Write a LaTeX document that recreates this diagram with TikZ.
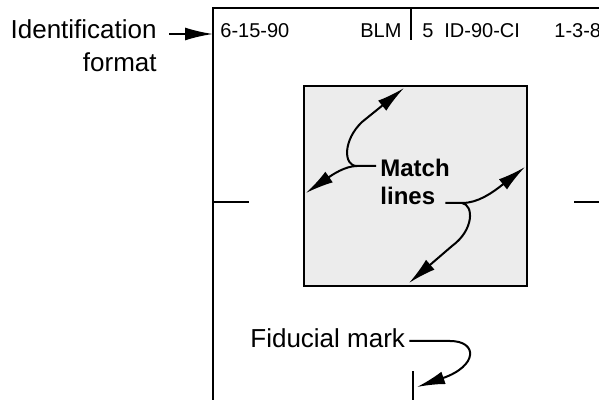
\documentclass[tikz,border=0pt]{standalone}
\usepackage{fontspec}
\setmainfont{Liberation Sans}
\usetikzlibrary{arrows.meta}
\definecolor{boxgrey}{RGB}{236,236,236}

\begin{document}
\begin{tikzpicture}[x=0.5pt, y=-0.5pt,
        label/.style={font=\fontsize{13}{15}\selectfont, inner sep=2pt},
        stamp/.style={font=\fontsize{10}{12}\selectfont, anchor=base west, inner sep=0pt},
        matchtext/.style={font=\fontsize{12}{14}\selectfont\bfseries, anchor=base west, inner sep=2pt},
        frame/.style={line width=1.2pt},
        pointer/.style={line width=1pt, -{Latex[length=14pt,width=6.5pt]}},
        matchbox/.style={draw, line width=1.1pt, fill=boxgrey, minimum width=111.5pt, minimum height=100pt, inner sep=0pt}]
    \useasboundingbox (0,0) rectangle (599,400);
    \clip (0,0) rectangle (599,400);
    \coordinate (corner) at (213,8);
    \draw[frame] (213,400) -- (corner) -- (599,8);
    \draw[frame] (411,8) -- (411,40);
    \draw[frame] (213,202) -- (249,202);
    \draw[frame] (574,202) -- (599,202);
    \node[stamp] (date) at (220,38) {6-15-90};
    \node[stamp] (office) at (360,38) {BLM};
    \node[stamp] (roll) at (422,38) {5};
    \node[stamp] (project) at (444,38) {ID-90-CI};
    \node[stamp] (flown) at (554,38) {1-3-8};
    \node[label, anchor=base east] (ident) at (161,39) {Identification};
    \node[label, anchor=base east] (format) at (161,72) {format};
    \coordinate (identtip) at (213,34);
    \draw[pointer, shorten <=4pt] (ident.east |- identtip) -- (identtip);
    \node[matchbox] (box) at (415.5,186) {};
    \node[matchtext] (match) at (376,177) {Match};
    \node[matchtext] (lines) at (376,205) {lines};
    \coordinate (fork1) at (357,166);
    \coordinate (fork2) at (462,203);
    \coordinate (tipN) at (404,88);
    \coordinate (tipW) at (306,193);
    \coordinate (tipE) at (525,167);
    \coordinate (tipS) at (409,283);
    \draw[pointer] (match.west |- fork1) -- (fork1) .. controls (343,166) and (343,140) .. (362,122) -- (tipN);
    \draw[pointer] (fork1) .. controls (345,166) and (332,175) .. (tipW);
    \draw[pointer, shorten <=3pt] (lines.east |- fork2) -- (fork2) .. controls (478,203) and (492,193) .. (tipE);
    \draw[pointer] (fork2) .. controls (474,205) and (474,230) .. (452,246) -- (tipS);
    \node[label, anchor=base west] (fid) at (246,348) {Fiducial mark};
    \coordinate (fidmark) at (413,371);
    \coordinate (fidbend) at (450,341);
    \draw[frame] (fidmark) -- (413,400);
    \draw[pointer] (fid.east |- fidbend) -- (fidbend) .. controls (478,341) and (478,366) .. ([xshift=2pt,yshift=-8pt]fidmark);
\end{tikzpicture}
\end{document}
